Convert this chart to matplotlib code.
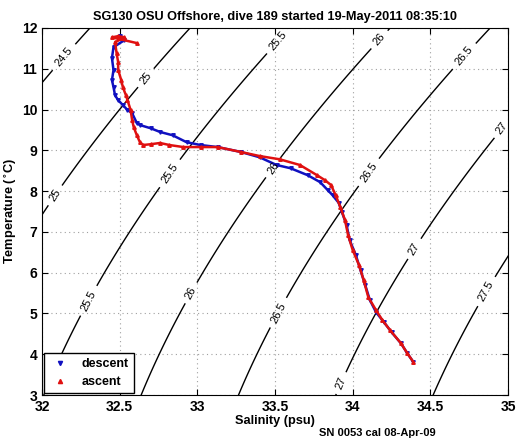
import numpy as np
import matplotlib.pyplot as plt

# T-S profile (salinity psu, temperature C)
desc_s = [32.50, 32.53, 32.46, 32.45, 32.46, 32.45, 32.46, 32.47, 32.49, 32.52,
          32.55, 32.58, 32.61, 32.63, 32.70, 32.76, 32.84, 32.93, 33.02, 33.13,
          33.28, 33.40, 33.51, 33.60, 33.71, 33.79, 33.84, 33.87, 33.91, 33.93,
          33.96, 33.98, 34.02, 34.05, 34.08, 34.11, 34.15, 34.20, 34.25, 34.31,
          34.35, 34.39]
desc_t = [11.80, 11.70, 11.53, 11.26, 10.97, 10.72, 10.55, 10.35, 10.23, 10.11,
          9.99, 9.91, 9.67, 9.62, 9.54, 9.45, 9.37, 9.20, 9.13, 9.08,
          8.96, 8.83, 8.64, 8.56, 8.39, 8.22, 8.02, 7.90, 7.71, 7.49,
          7.17, 6.80, 6.43, 6.06, 5.70, 5.33, 5.03, 4.79, 4.54, 4.27,
          4.03, 3.81]

asc_s = [32.61, 32.45, 32.49, 32.53, 32.47, 32.48, 32.49, 32.49, 32.51, 32.52,
         32.54, 32.55, 32.57, 32.58, 32.59, 32.61, 32.63, 32.65, 32.70, 32.76,
         32.82, 32.91, 33.02, 33.13, 33.28, 33.40, 33.53, 33.66, 33.77, 33.82,
         33.86, 33.89, 33.92, 33.95, 33.97, 34.00, 34.04, 34.07, 34.10, 34.15,
         34.19, 34.24, 34.31, 34.35, 34.39]
asc_t = [11.63, 11.77, 11.80, 11.77, 11.65, 11.38, 11.16, 10.97, 10.72, 10.55,
         10.35, 10.23, 9.99, 9.74, 9.57, 9.37, 9.20, 9.13, 9.15, 9.18,
         9.13, 9.08, 9.08, 9.08, 8.96, 8.86, 8.78, 8.64, 8.39, 8.27,
         8.15, 7.90, 7.61, 7.29, 6.92, 6.55, 6.19, 5.82, 5.40, 5.08,
         4.84, 4.59, 4.27, 4.03, 3.81]

levels = [24.5, 25, 25.5, 26, 26.5, 27, 27.5]
label_pos = [(32.10, 11.4), (32.66, 10.8), (32.06, 7.95), (33.45, 11.9),
             (32.82, 8.44), (32.29, 5.33), (34.11, 11.9), (33.48, 8.59),
             (32.95, 5.52), (34.71, 11.33), (34.10, 8.47), (33.76, 4.6),
             (34.96, 9.54), (34.39, 6.6), (33.92, 3.3), (34.87, 5.52)]


def sigma_t(S, T):
    # UNESCO 1980 density at surface pressure, minus 1000
    rw = (999.842594 + 6.793952e-2 * T - 9.095290e-3 * T**2 + 1.001685e-4 * T**3
          - 1.120083e-6 * T**4 + 6.536332e-9 * T**5)
    rho = (rw + S * (0.824493 - 4.0899e-3 * T + 7.6438e-5 * T**2 - 8.2467e-7 * T**3
                     + 5.3875e-9 * T**4)
           + S**1.5 * (-5.72466e-3 + 1.0227e-4 * T - 1.6546e-6 * T**2)
           + 4.8314e-4 * S**2)
    return rho - 1000


plt.rcParams['font.family'] = ['Liberation Sans', 'DejaVu Sans']
plt.rcParams['font.weight'] = 'bold'

fig = plt.figure(figsize=(5.19, 4.42), dpi=100)
ax = fig.add_axes([0.081, 0.1063, 0.898, 0.8304])

sg, tg = np.meshgrid(np.linspace(31.8, 35.2, 300), np.linspace(2.8, 12.2, 300))
cs = ax.contour(sg, tg, sigma_t(sg, tg), levels=levels, colors='k', linewidths=1)
ax.clabel(cs, manual=label_pos, inline=True, fmt='%g', fontsize=8)
for t in cs.labelTexts:
    t.set_fontweight('normal')

ax.plot(desc_s, desc_t, color='#1010c0', marker='v', ms=2.5, lw=1.8,
        linestyle='-', label='descent')
ax.plot(asc_s, asc_t, color='#e01010', marker='^', ms=2.5, lw=1.8,
        linestyle='-', label='ascent')

ax.set_xlim(32, 35)
ax.set_ylim(3, 12)
ax.set_xticks([32, 32.5, 33, 33.5, 34, 34.5, 35])
ax.set_xticklabels(['32', '32.5', '33', '33.5', '34', '34.5', '35'])
ax.set_yticks(range(3, 13))
ax.tick_params(direction='in', labelsize=10, top=True, right=True, length=4)
ax.grid(True, color='#a0a0a0', linestyle=(0, (1, 3)), linewidth=0.8)
ax.set_xlabel('Salinity (psu)', fontsize=9.2, fontweight='bold', labelpad=1)
ax.set_ylabel('Temperature ($^{\\circ}$C)', fontsize=9.2, fontweight='bold')
ax.yaxis.set_label_coords(-0.049, 0.5)
ax.set_title('SG130 OSU Offshore, dive 189 started 19-May-2011 08:35:10',
             fontsize=9.2, fontweight='bold')

leg = ax.legend(loc='lower left', fontsize=9, fancybox=False, framealpha=1,
                edgecolor='k', handlelength=1.8, borderaxespad=0.15,
                markerscale=1.2)
leg.get_frame().set_linewidth(1)
for h in leg.get_lines():
    h.set_linestyle('none')

fig.text(0.727, 0.014, 'SN 0053 cal 08-Apr-09', fontsize=8, fontweight='bold',
         ha='center')

plt.savefig('out.png', dpi=100)
